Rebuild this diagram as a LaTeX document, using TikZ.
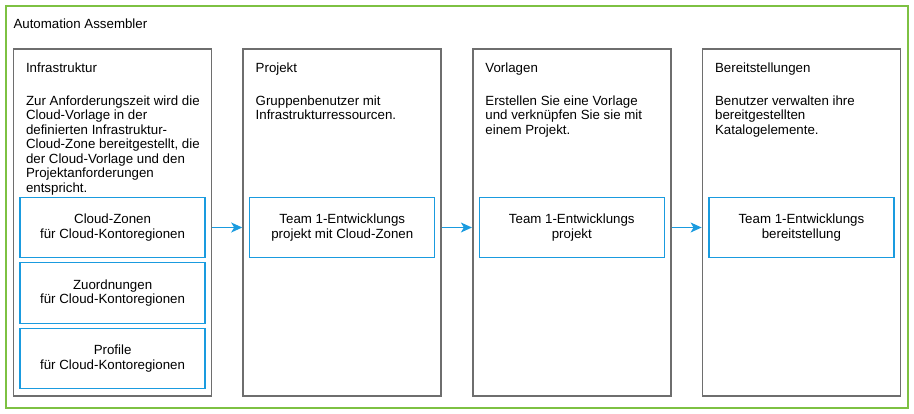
\documentclass[tikz,border=0pt]{standalone}
\usepackage{fontspec}
\setmainfont{Liberation Sans}
\usetikzlibrary{arrows.meta}
\definecolor{vgreen}{HTML}{7DC142}
\definecolor{vblue}{HTML}{1A9BDF}
\definecolor{vgray}{HTML}{6E6E6E}
\tikzset{
  txt/.style={font=\fontsize{13.3}{14.5}\selectfont, inner sep=0pt, text=black},
  outerbox/.style={draw=vgreen, line width=1.3pt, minimum width=902pt, minimum height=402pt, inner sep=0pt},
  colbox/.style={draw=vgray, line width=1.6pt, fill=white, minimum width=198pt, minimum height=347pt, inner sep=0pt},
  bluebox/.style={txt, draw=vblue, line width=1.3pt, align=center, minimum width=185pt, minimum height=60.5pt},
  heading/.style={txt, anchor=base west},
  body/.style={txt, anchor=north west, align=left},
  arr/.style={draw=vblue, line width=1.1pt, -{Stealth[length=11pt, width=10pt, inset=3pt]}}
}
\begin{document}
\begin{tikzpicture}[x=1pt,y=-1pt]
\useasboundingbox (0,0) rectangle (914,414);
\node[outerbox] (outer) at (457,207) {};
\node[heading, anchor=base west] (title) at (13.3,28.5) {Automation Assembler};

\node[colbox] (c1) at (112.3,222.5) {};
\node[colbox] (c2) at (342.0,222.5) {};
\node[colbox] (c3) at (571.7,222.5) {};
\node[colbox] (c4) at (801.4,222.5) {};

\node[heading] (h1) at ([xshift=13.3pt]c1.west |- 0,72.5) {Infrastruktur};
\node[heading] (h2) at ([xshift=13.3pt]c2.west |- 0,72.5) {Projekt};
\node[heading] (h3) at ([xshift=13.3pt]c3.west |- 0,72.5) {Vorlagen};
\node[heading] (h4) at ([xshift=13.3pt]c4.west |- 0,72.5) {Bereitstellungen};

\node[body] (t1) at ([xshift=13.3pt]c1.west |- 0,95.3) {Zur Anforderungszeit wird die\\Cloud-Vorlage in der\\definierten Infrastruktur-\\Cloud-Zone bereitgestellt, die\\der Cloud-Vorlage und den\\Projektanforderungen\\entspricht.};
\node[body] (t2) at ([xshift=13.3pt]c2.west |- 0,95.3) {Gruppenbenutzer mit\\Infrastrukturressourcen.};
\node[body] (t3) at ([xshift=13.3pt]c3.west |- 0,95.3) {Erstellen Sie eine Vorlage\\und verknüpfen Sie sie mit\\einem Projekt.};
\node[body] (t4) at ([xshift=13.3pt]c4.west |- 0,95.3) {Benutzer verwalten ihre\\bereitgestellten\\Katalogelemente.};

\node[bluebox] (b1) at (112.6,227.5) {Cloud-Zonen\\für Cloud-Kontoregionen};
\node[bluebox] (b1b) at (112.6,293.0) {Zuordnungen\\für Cloud-Kontoregionen};
\node[bluebox] (b1c) at (112.6,358.6) {Profile\\für Cloud-Kontoregionen};
\node[bluebox] (b2) at (342.3,227.5) {Team 1-Entwicklungs\\projekt mit Cloud-Zonen};
\node[bluebox] (b3) at (571.8,227.5) {Team 1-Entwicklungs\\projekt};
\node[bluebox] (b4) at (801.4,227.5) {Team 1-Entwicklungs\\bereitstellung};

\draw[arr] (b1.center -| c1.east) -- (b1.center -| c2.west);
\draw[arr] (b2.center -| c2.east) -- (b2.center -| c3.west);
\draw[arr] (b3.center -| c3.east) -- (b3.center -| c4.west);
\end{tikzpicture}
\end{document}
